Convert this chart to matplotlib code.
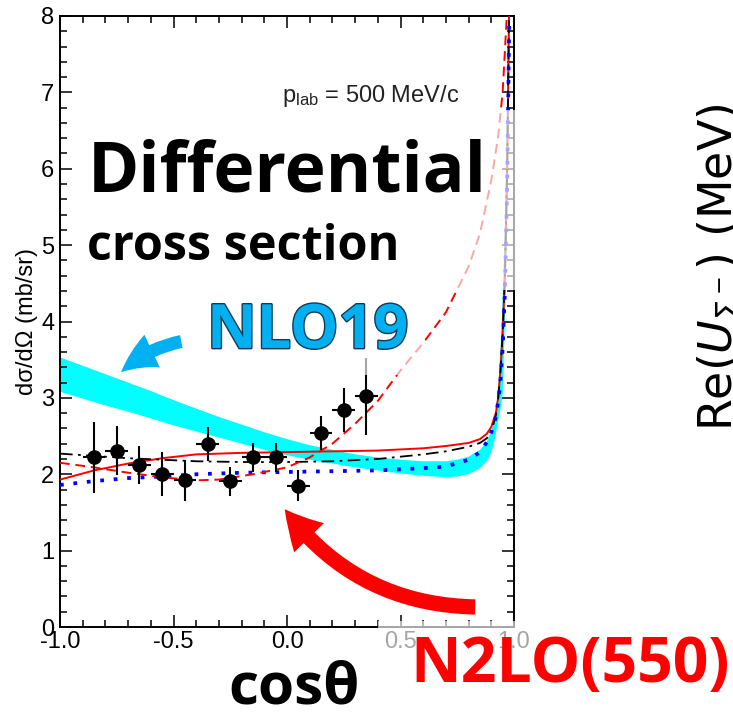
import matplotlib.pyplot as plt
import matplotlib.patheffects as pe
from matplotlib.patches import FancyArrowPatch, Rectangle
from matplotlib.ticker import MultipleLocator

# measured points: cos(theta), d sigma / d Omega (mb/sr), error
cos_data = [-0.85, -0.75, -0.65, -0.55, -0.45, -0.35, -0.25, -0.15, -0.05, 0.05, 0.15, 0.25, 0.35]
xs_data = [2.22, 2.31, 2.12, 2.00, 1.92, 2.40, 1.91, 2.22, 2.22, 1.85, 2.54, 2.84, 3.02]
xs_err = [0.46, 0.32, 0.25, 0.29, 0.27, 0.22, 0.19, 0.19, 0.19, 0.20, 0.22, 0.29, 0.50]

# NLO19 band
cos_band = [-1.0, -0.9, -0.8, -0.7, -0.6, -0.5, -0.4, -0.3, -0.2, -0.1, 0.0, 0.1, 0.2, 0.3,
            0.4, 0.5, 0.6, 0.7, 0.75, 0.8, 0.85, 0.88, 0.9, 0.92, 0.93, 0.94, 0.95, 0.96,
            0.97, 0.98, 0.99]
band_hi = [3.53, 3.42, 3.31, 3.20, 3.09, 2.97, 2.86, 2.75, 2.65, 2.55, 2.46, 2.38, 2.32, 2.26,
           2.22, 2.19, 2.17, 2.17, 2.19, 2.23, 2.32, 2.43, 2.56, 2.82, 3.12, 3.6, 4.3, 5.3,
           7.0, 9.5, 14.0]
band_lo = [3.08, 2.99, 2.90, 2.82, 2.73, 2.64, 2.56, 2.48, 2.40, 2.32, 2.25, 2.19, 2.14, 2.09,
           2.05, 2.01, 1.98, 1.96, 1.97, 2.00, 2.08, 2.17, 2.28, 2.52, 2.70, 2.85, 3.05, 4.0,
           5.3, 7.5, 11.0]

# theory curves
cos_th = [-1.0, -0.85, -0.7, -0.55, -0.4, -0.2, 0.0, 0.2, 0.4, 0.6, 0.7, 0.8, 0.85,
          0.88, 0.9, 0.92, 0.93, 0.94, 0.95, 0.96, 0.97, 0.98]
n2lo_solid = [1.93, 2.05, 2.14, 2.21, 2.26, 2.28, 2.29, 2.30, 2.31, 2.34, 2.37, 2.41, 2.46,
              2.53, 2.62, 2.80, 3.00, 3.35, 3.85, 4.6, 6.0, 8.5]
dashdot = [2.27, 2.24, 2.21, 2.19, 2.17, 2.16, 2.16, 2.17, 2.20, 2.26, 2.30, 2.36, 2.41,
           2.47, 2.56, 2.77, 2.98, 3.33, 3.83, 4.6, 6.0, 8.5]
dotted = [1.86, 1.91, 1.95, 1.97, 2.00, 2.02, 2.03, 2.04, 2.05, 2.08, 2.10, 2.19, 2.29,
          2.42, 2.55, 2.75, 2.95, 3.20, 3.65, 4.4, 5.8, 8.2]

cos_dash = [-1.0, -0.85, -0.7, -0.55, -0.4, -0.3, -0.15, 0.0, 0.1, 0.2, 0.3, 0.4, 0.5,
            0.6, 0.7, 0.8, 0.85, 0.9, 0.93, 0.95, 0.97, 0.98]
dashed = [2.15, 2.09, 2.02, 1.96, 1.92, 1.93, 2.00, 2.09, 2.22, 2.40, 2.66, 2.96, 3.36,
          3.72, 4.12, 4.72, 5.15, 5.85, 6.42, 7.0, 8.1, 9.0]

W, H = 733, 712
big = 'Open Sans'
plt.rcParams['font.family'] = ['Liberation Sans', 'DejaVu Sans']
plt.rcParams['mathtext.fontset'] = 'custom'
plt.rcParams['mathtext.rm'] = 'Liberation Sans'
plt.rcParams['mathtext.it'] = 'Liberation Sans:italic'

fig = plt.figure(figsize=(W / 100, H / 100), dpi=100)


def fx(px):
    return px / W


def fy(py):
    return 1 - py / H


ax = fig.add_axes([fx(60), fy(627), fx(514) - fx(60), fy(16) - fy(627)])

ax.fill_between(cos_band, band_lo, band_hi, color='#00ffff', lw=0, zorder=1)
ax.plot(cos_th, n2lo_solid, color='red', lw=1.4, zorder=3)
ax.plot(cos_th, dashdot, color='black', lw=1.3, dashes=(7, 3, 1.5, 3), zorder=3)
ax.plot(cos_th, dotted, color='blue', lw=2.7, dashes=(1, 2.6), zorder=3)
ax.plot(cos_dash, dashed, color='red', lw=1.4, dashes=(5, 3), zorder=3)
ax.errorbar(cos_data, xs_data, yerr=xs_err, xerr=0.05, fmt='o', color='black',
            ms=9.5, elinewidth=1.5, capsize=0, zorder=4)

ax.set_xlim(-1, 1)
ax.set_ylim(0, 8)
ax.xaxis.set_major_locator(MultipleLocator(0.5))
ax.xaxis.set_minor_locator(MultipleLocator(0.1))
ax.yaxis.set_major_locator(MultipleLocator(1))
ax.yaxis.set_minor_locator(MultipleLocator(0.2))
ax.xaxis.set_major_formatter(plt.FuncFormatter(lambda v, p: f'{v:.1f}'))
ax.tick_params(which='both', direction='in', top=True, right=True, width=1.1,
               labelsize=17, color='black')
ax.tick_params(which='major', length=8.5)
ax.tick_params(which='minor', length=5)
ax.tick_params(axis='x', pad=3)
ax.tick_params(axis='y', pad=4)
for s in ax.spines.values():
    s.set_linewidth(1.4)
ax.set_ylabel('dσ/dΩ (mb/sr)', fontsize=17, labelpad=2)

fig.text(fx(282), fy(102), r'p$_{\mathrm{lab}}$ = 500 MeV/c', fontsize=17,
         va='baseline', ha='left', color='#222222')

# faded boxes from the slide overlay
for (x0, y0, x1, y1) in [(395, 110, 518, 290), (200, 290, 425, 375), (378, 621, 733, 712)]:
    fig.patches.append(Rectangle((fx(x0), fy(y1)), fx(x1) - fx(x0), fy(y0) - fy(y1),
                                 transform=fig.transFigure, facecolor='white',
                                 alpha=0.65, lw=0, zorder=2))

# annotation arrows
arr1 = FancyArrowPatch((fx(184), fy(341)), (fx(119), fy(374)), transform=fig.transFigure,
                       arrowstyle='simple,head_width=26,head_length=27,tail_width=9.4',
                       connectionstyle='arc3,rad=0.15', color='#00b0f0', lw=0, zorder=5)
arr2 = FancyArrowPatch((fx(478), fy(607)), (fx(283), fy(507)), transform=fig.transFigure,
                       arrowstyle='simple,head_width=30,head_length=27,tail_width=11',
                       connectionstyle='arc3,rad=-0.25', color='red', lw=0, zorder=5)
fig.patches.extend([arr1, arr2])

fig.text(fx(88), fy(192), 'Differential', fontsize=50, fontfamily=big, fontweight='bold',
         va='baseline', ha='left', zorder=6)
fig.text(fx(87), fy(260), 'cross section', fontsize=35, fontfamily=big, fontweight='bold',
         va='baseline', ha='left', zorder=6)
fig.text(fx(207), fy(348), 'NLO19', fontsize=44, fontfamily=big, fontweight='bold',
         va='baseline', ha='left', color='#00b0f0', zorder=6,
         path_effects=[pe.Stroke(linewidth=2, foreground='#123a55'), pe.Normal()])
fig.text(fx(410), fy(682), 'N2LO(550)', fontsize=45, fontfamily=big, fontweight='bold',
         va='baseline', ha='left', color='red', zorder=6)
fig.text(fx(228), fy(703), 'cosθ', fontsize=42, fontfamily=big, fontweight='bold',
         va='baseline', ha='left', zorder=6)
fig.text(fx(732), fy(267), r'Re($U_{\Sigma^-}$) (MeV)', fontsize=33, rotation=90,
         rotation_mode='anchor', ha='center', va='baseline', fontfamily='DejaVu Sans',
         math_fontfamily='dejavusans', zorder=6)

fig.savefig('out.png', dpi=100)
